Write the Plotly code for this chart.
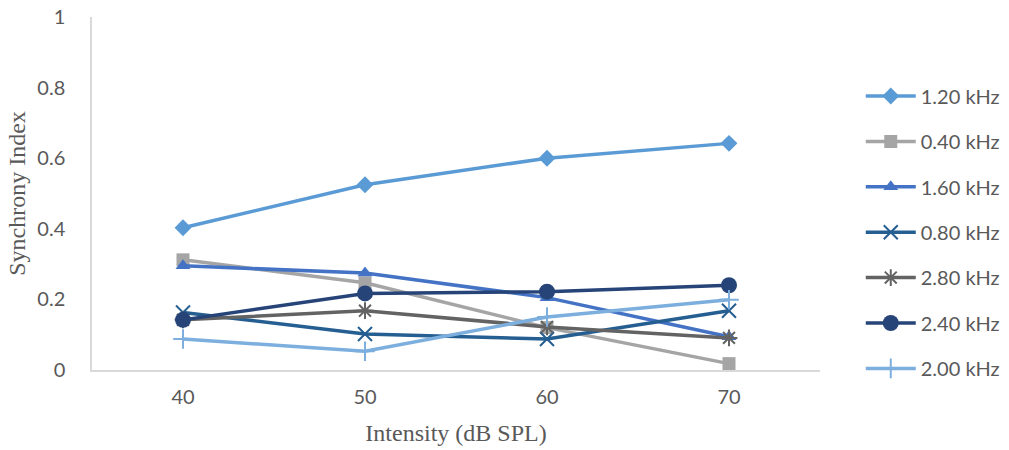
import plotly.graph_objects as go

intensity = ["40", "50", "60", "70"]
series_names = ["1.20 kHz", "0.40 kHz", "1.60 kHz", "0.80 kHz", "2.80 kHz", "2.40 kHz", "2.00 kHz"]
v_120 = [0.403, 0.525, 0.600, 0.642]
v_040 = [0.312, 0.247, 0.120, 0.018]
v_160 = [0.295, 0.275, 0.205, 0.094]
v_080 = [0.163, 0.102, 0.088, 0.168]
v_280 = [0.142, 0.168, 0.122, 0.091]
v_240 = [0.142, 0.217, 0.222, 0.240]
v_200 = [0.088, 0.053, 0.150, 0.199]
y_ticks = [0, 0.2, 0.4, 0.6, 0.8, 1]
y_ticklabels = ["0", "0.2", "0.4", "0.6", "0.8", "1"]

values = [v_120, v_040, v_160, v_080, v_280, v_240, v_200]
colors = ["#5B9BD5", "#A5A5A5", "#4472C4", "#255E91", "#636363", "#264478", "#7CAFDD"]
symbols = ["diamond", "square", "triangle-up", "x-thin", "asterisk", "circle", "cross-thin"]
sizes = [13, 13, 13, 14, 14, 16, 14]

fig = go.Figure()
for name, vals, c, s, sz in zip(series_names, values, colors, symbols, sizes):
    thin = s in ("x-thin", "asterisk", "cross-thin")
    fig.add_trace(go.Scatter(
        x=intensity, y=vals, name=name, mode="lines+markers",
        legendgroup=name,
        line=dict(color=c, width=3.5),
        marker=dict(symbol=s, size=sz, color=c,
                    line=dict(color=c, width=2 if thin else 0)),
    ))

serif = "'Liberation Serif', 'Times New Roman', serif"
fig.update_layout(
    width=1009, height=450,
    margin=dict(l=92, r=189, t=17, b=80, autoexpand=False),
    paper_bgcolor="white", plot_bgcolor="white",
    font=dict(family="Lato, 'Open Sans', sans-serif", color="#595959", size=20),
    showlegend=True,
    legend=dict(x=1.056, y=0.8315, xanchor="left", yanchor="top",
                font=dict(size=20, color="#595959"),
                tracegroupgap=16.4, itemwidth=50,
                bgcolor="rgba(0,0,0,0)"),
    xaxis=dict(
        type="category", range=[-0.5, 3.5],
        showline=True, linecolor="#D9D9D9", linewidth=1.5,
        showgrid=False, zeroline=False, ticks="",
        ticklabelstandoff=8,
        tickfont=dict(size=20, color="#595959"),
        title=dict(text="Intensity (dB SPL)", standoff=17,
                   font=dict(family=serif, size=24, color="#595959")),
    ),
    yaxis=dict(
        range=[0, 1], tickvals=y_ticks, ticktext=y_ticklabels,
        showline=True, linecolor="#D9D9D9", linewidth=1.5,
        showgrid=False, zeroline=False, ticks="",
        ticklabelstandoff=21,
        tickfont=dict(size=20, color="#595959"),
        title=dict(text="Synchrony Index", standoff=5,
                   font=dict(family=serif, size=24, color="#595959")),
    ),
)

fig.write_html("out.html")
